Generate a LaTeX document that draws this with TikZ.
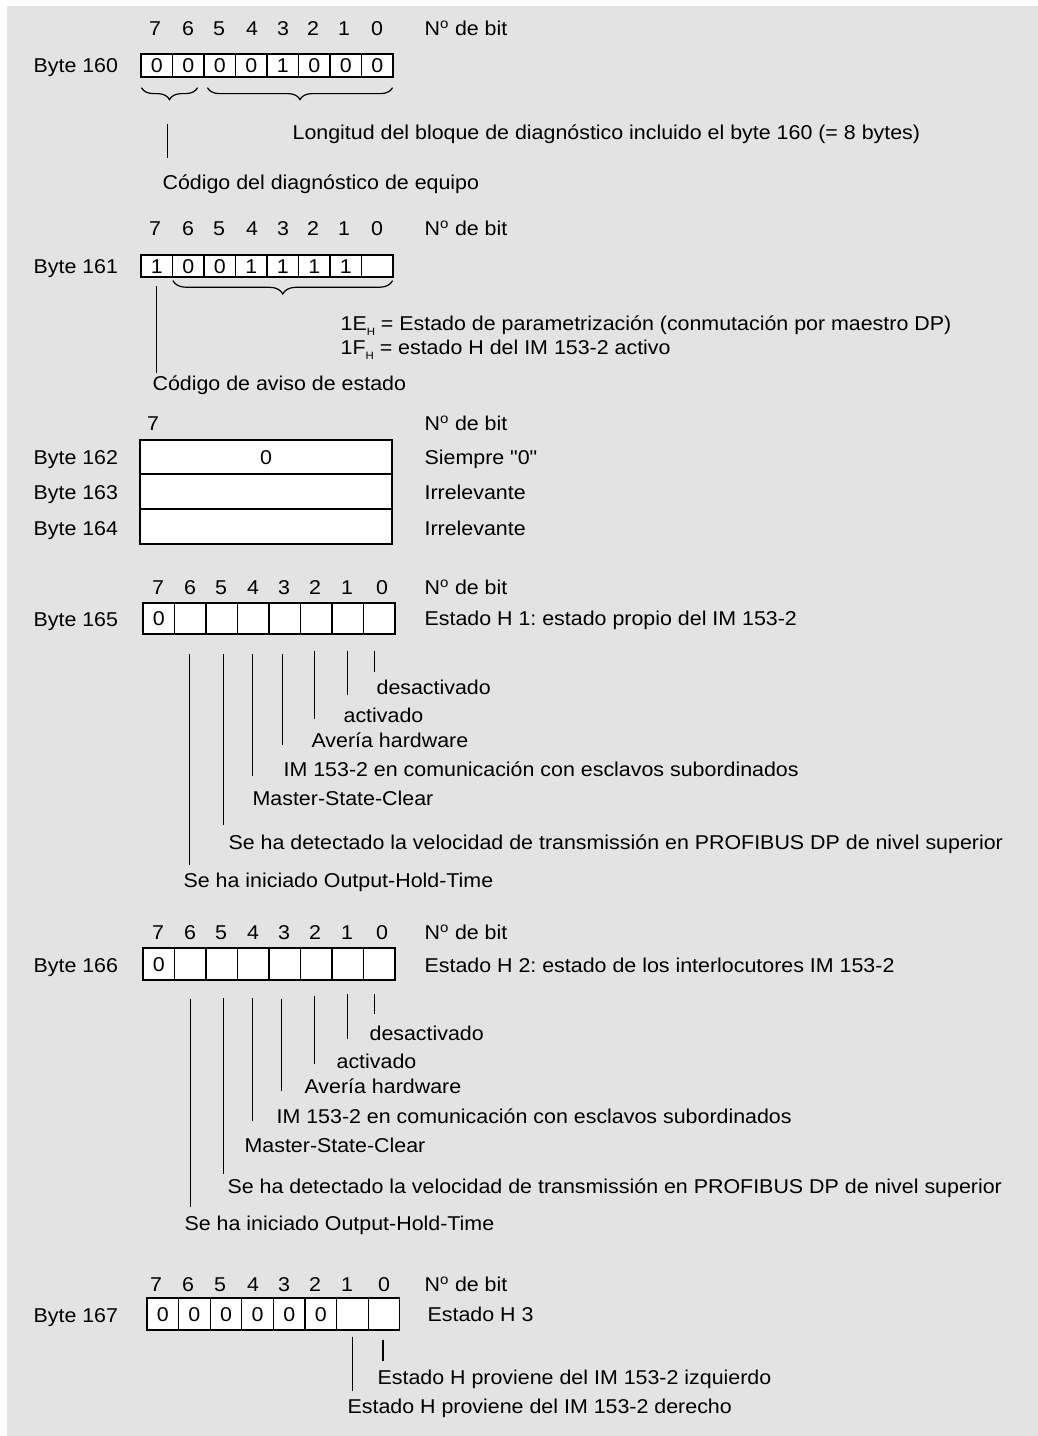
\documentclass[tikz,border=0pt]{standalone}
\usepackage{fontspec}
\setmainfont{Liberation Sans}[FakeStretch=1.07, Ligatures=TeXOff]
\usetikzlibrary{decorations.pathreplacing,calc}
\definecolor{bggray}{RGB}{227,227,227}
\frenchspacing
\newcommand\bytrow[6]{% name, x-left, y-center, cell width, height, values
  \foreach \v [count=\i from 0] in {#6} {
    \pgfmathtruncatemacro\bitno{7-\i}
    \node[cell, minimum width=#4*0.75pt, minimum height=#5*0.75pt] (#1-\bitno) at (#2+#4*\i+#4/2, #3) {\v};
  }
}
\newcommand\bitnums[3]{% prefix, y, list of x
  \foreach \xx [count=\i from 0] in {#3} {
    \pgfmathtruncatemacro\bitno{7-\i}
    \node[num] (#1-\bitno) at (\xx,#2) {\bitno};
  }
}
\newcommand\nodebit[2]{\node[lbl] (#1) at (424,#2) {N\textsuperscript{o} de bit};}
\newcommand\Hsub{\raisebox{-0.5ex}{\fontsize{8}{9}\selectfont H}}
\begin{document}
\begin{tikzpicture}[x=0.75pt,y=-0.75pt, line width=0.9pt,
  every node/.style={font=\fontsize{15}{18}\selectfont},
  lbl/.style={inner sep=0pt, anchor=west, text height=10.75pt, text depth=0pt},
  num/.style={inner sep=0pt, anchor=center, text height=10.75pt, text depth=0pt},
  cell/.style={draw, fill=white, inner sep=0pt, text height=10.75pt, text depth=0pt},
  brc/.style={decorate, decoration={brace, mirror, amplitude=#1}}]
\useasboundingbox (0,0) rectangle (1038,1436);
\fill[bggray] (7,6) rectangle (1038,1436);

% ---------------- Byte 160
\bitnums{n160}{28}{155,188,219,252,283,313,344,377}
\nodebit{nb160}{28}
\node[lbl] (by160) at (33,65) {Byte 160};
\bytrow{b160}{141}{65.5}{31.5}{23}{0,0,0,0,1,0,0,0}
\draw[brc=9pt] ($(b160-7.south west)+(1,10)$) -- ($(b160-6.south east)+(-7,10)$);
\draw[brc=9pt] ($(b160-5.south west)+(4,10)$) -- ($(b160-0.south east)+(-1,10)$);
\node[lbl] (len160) at (292,132) {Longitud del bloque de diagnóstico incluido el byte 160 (= 8 bytes)};
\node[lbl] (cod160) at (162,182) {Código del diagnóstico de equipo};
\draw ($(b160-7.south)+(11,46)$) -- ($(b160-7.south)+(11,80)$);

% ---------------- Byte 161
\bitnums{n161}{228}{155,188,219,252,283,313,344,377}
\nodebit{nb161}{228}
\node[lbl] (by161) at (33,266) {Byte 161};
\bytrow{b161}{141}{266}{31.5}{22}{1,0,0,1,1,1,1,{}}
\draw[brc=10pt] ($(b161-6.south west)+(1,3)$) -- ($(b161-0.south east)+(-1,3)$);
\node[lbl] (e161) at (340,323) {1E\Hsub\ = Estado de parametrización (conmutación por maestro DP)};
\node[lbl] (f161) at (340,347) {1F\Hsub\ = estado H del IM 153-2 activo};
\node[lbl] (cod161) at (152,383) {Código de aviso de estado};
\draw ($(b161-7.south)+(0,8)$) -- ++(0,87);

% ---------------- Bytes 162-164
\node[num] (n162) at (153,423) {7};
\nodebit{nb162}{423}
\node[cell, minimum width=252*0.75pt, minimum height=34*0.75pt] (b162) at (266,457) {0};
\node[cell, minimum width=252*0.75pt, minimum height=35*0.75pt] (b163) at (266,491.5) {};
\node[cell, minimum width=252*0.75pt, minimum height=35*0.75pt] (b164) at (266,526.5) {};
\node[lbl] (by162) at (33,457) {Byte 162};
\node[lbl] (by163) at (33,492) {Byte 163};
\node[lbl] (by164) at (33,528) {Byte 164};
\node[lbl] (s162) at (424,457) {Siempre "0"};
\node[lbl] (s163) at (424,492) {Irrelevante};
\node[lbl] (s164) at (424,528) {Irrelevante};

% ---------------- Byte 165
\bitnums{n165}{587}{158,190,221,253,284,315,347,382}
\nodebit{nb165}{587}
\node[lbl] (by165) at (33,619) {Byte 165};
\bytrow{b165}{143}{618.5}{31.5}{31}{0,{},{},{},{},{},{},{}}
\node[lbl] (h165) at (424,618) {Estado H 1: estado propio del IM 153-2};
\node[lbl] (a165-0) at (376,687) {desactivado};
\node[lbl] (a165-1) at (343,715) {activado};
\node[lbl] (a165-2) at (311,740) {Avería hardware};
\node[lbl] (a165-3) at (283,769) {IM 153-2 en comunicación con esclavos subordinados};
\node[lbl] (a165-4) at (252,798) {Master-State-Clear};
\node[lbl] (a165-5) at (228,842) {Se ha detectado la velocidad de transmissión en PROFIBUS DP de nivel superior};
\node[lbl] (a165-6) at (183,880) {Se ha iniciado Output-Hold-Time};
\draw ($(b165-0.south)+(-5,16)$) -- ++(0,21);
\draw ($(b165-1.south)+(0,16)$) -- ++(0,44);
\draw ($(b165-2.south)+(-2,16)$) -- ++(0,68);
\draw ($(b165-3.south)+(-2,19)$) -- ++(0,91);
\draw ($(b165-4.south)+(-1,19)$) -- ++(0,122);
\draw ($(b165-5.south)+(2,19)$) -- ++(0,171);
\draw ($(b165-6.south)+(-1,19)$) -- ++(0,211);

% ---------------- Byte 166
\bitnums{n166}{932}{158,190,221,253,284,315,347,382}
\nodebit{nb166}{932}
\node[lbl] (by166) at (33,965) {Byte 166};
\bytrow{b166}{143}{964}{31.5}{32}{0,{},{},{},{},{},{},{}}
\node[lbl] (h166) at (424,965) {Estado H 2: estado de los interlocutores IM 153-2};
\node[lbl] (a166-0) at (369,1033) {desactivado};
\node[lbl] (a166-1) at (336,1061) {activado};
\node[lbl] (a166-2) at (304,1086) {Avería hardware};
\node[lbl] (a166-3) at (276,1116) {IM 153-2 en comunicación con esclavos subordinados};
\node[lbl] (a166-4) at (244,1145) {Master-State-Clear};
\node[lbl] (a166-5) at (227,1186) {Se ha detectado la velocidad de transmissión en PROFIBUS DP de nivel superior};
\node[lbl] (a166-6) at (184,1223) {Se ha iniciado Output-Hold-Time};
\draw ($(b166-0.south)+(-5,13)$) -- ++(0,20);
\draw ($(b166-1.south)+(0,13)$) -- ++(0,45);
\draw ($(b166-2.south)+(-2,15)$) -- ++(0,68);
\draw ($(b166-3.south)+(-3,18)$) -- ++(0,92);
\draw ($(b166-4.south)+(-1,17)$) -- ++(0,123);
\draw ($(b166-5.south)+(2,17)$) -- ++(0,176);
\draw ($(b166-6.south)+(0,18)$) -- ++(0,208);

% ---------------- Byte 167
\bitnums{n167}{1284}{156,188,220,253,284,315,347,384}
\nodebit{nb167}{1284}
\node[lbl] (by167) at (33,1315) {Byte 167};
\bytrow{b167}{147}{1314}{31.6}{32}{0,0,0,0,0,0,{},{}}
\node[lbl] (h167) at (427,1314) {Estado H 3};
\node[lbl] (a167-0) at (377,1377) {Estado H proviene del IM 153-2 izquierdo};
\node[lbl] (a167-1) at (347,1406) {Estado H proviene del IM 153-2 derecho};
\draw ($(b167-0.south)+(-1,9)$) -- ++(0,21);
\draw ($(b167-1.south)+(0,6)$) -- ++(0,54);
\end{tikzpicture}
\end{document}
